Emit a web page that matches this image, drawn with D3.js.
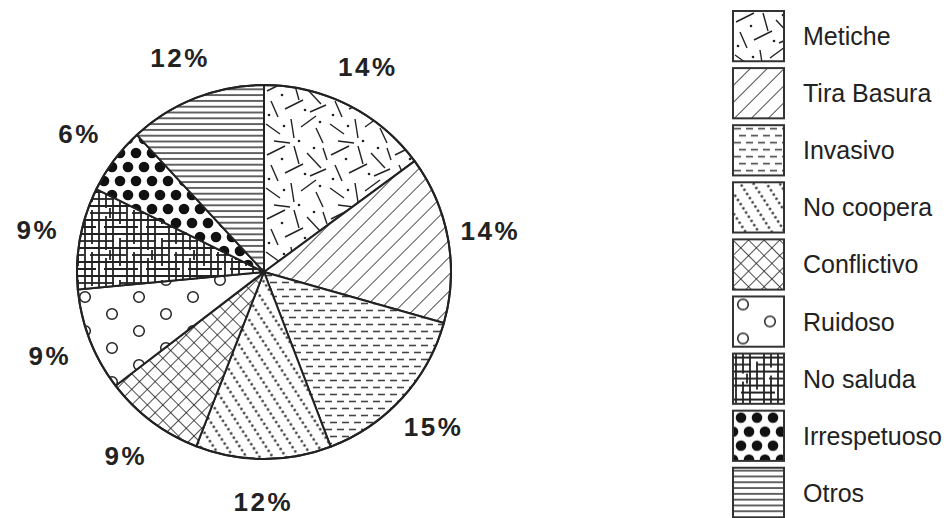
<!DOCTYPE html>
<html>
<head>
<meta charset="utf-8">
<script src="https://cdn.jsdelivr.net/npm/d3@7"></script>
<style>
  body { margin: 0; background: #fff; }
  svg { display: block; font-family: "Liberation Sans", Arial, Helvetica, sans-serif; }
</style>
</head>
<body>
<div id="grafico"></div>
<script>
// datos de la gráfica
const categorias = ["Metiche", "Tira Basura", "Invasivo", "No coopera", "Conflictivo", "Ruidoso", "No saluda", "Irrespetuoso", "Otros"];
const proporciones = [14.9, 14.5, 14.8, 11.7, 8.7, 8.9, 8.8, 5.8, 11.9];
const etiquetas = ["14%", "14%", "15%", "12%", "9%", "9%", "9%", "6%", "12%"];
const tramas = ["metiche", "tira", "invasivo", "nocoopera", "conflictivo", "ruidoso", "nosaluda", "irrespetuoso", "otros"];

const ancho = 946, alto = 518;
const centroX = 264, centroY = 272;
const radio = 187;
const radioEtiqueta = 230;
const tinta = "#222";

const $svg = d3.select("#grafico")
    .append("svg")
    .attr("width", ancho)
    .attr("height", alto);

const defs = $svg.append("defs");

const nuevaTrama = (id, w, h, transform) => {
    const p = defs.append("pattern")
        .attr("id", id)
        .attr("patternUnits", "userSpaceOnUse")
        .attr("width", w)
        .attr("height", h);
    if (transform) p.attr("patternTransform", transform);
    p.append("rect").attr("width", w).attr("height", h).attr("fill", "#fff");
    return p;
};
const linea = (p, x1, y1, x2, y2, grosor, color) => p.append("line")
    .attr("x1", x1).attr("y1", y1).attr("x2", x2).attr("y2", y2)
    .attr("stroke", color || tinta)
    .attr("stroke-width", grosor || 1.3);

// Metiche: trazos cortos y puntos
const tMetiche = nuevaTrama("metiche", 64, 64);
[[3, 11, 21, 2], [30, 2, 35, 20], [43, 9, 57, 24], [7, 21, 14, 37], [21, 29, 39, 20],
 [46, 32, 62, 25], [2, 44, 16, 54], [27, 39, 30, 58], [37, 47, 52, 36], [52, 48, 59, 63],
 [10, 61, 26, 63], [59, 4, 63, 16]].forEach(s => linea(tMetiche, s[0], s[1], s[2], s[3], 1.4));
[[18, 15], [41, 30], [5, 35], [35, 61], [56, 42], [20, 46], [50, 4]].forEach(d =>
    tMetiche.append("circle").attr("cx", d[0]).attr("cy", d[1]).attr("r", 1.3).attr("fill", tinta));

// Tira Basura: diagonales
const tTira = nuevaTrama("tira", 12, 12, "rotate(45)");
linea(tTira, 0, 0, 0, 12, 1.6);

// Invasivo: guiones horizontales
const tInv = nuevaTrama("invasivo", 12, 14);
linea(tInv, 1, 3.5, 8, 3.5, 1.6, "#444");
linea(tInv, 6, 10.5, 13, 10.5, 1.6, "#444");
linea(tInv, -6, 10.5, 1, 10.5, 1.6, "#444");

// No coopera: líneas punteadas
const tNoc = nuevaTrama("nocoopera", 11, 5, "rotate(-33)");
tNoc.append("circle").attr("cx", 5.5).attr("cy", 2.5).attr("r", 1.25).attr("fill", tinta);

// Conflictivo: cuadrícula diagonal
const tConf = nuevaTrama("conflictivo", 11, 11, "rotate(45)");
linea(tConf, 0, 0, 0, 11, 1.6);
linea(tConf, 0, 0, 11, 0, 1.6);

// Ruidoso: círculos huecos
const tRui = nuevaTrama("ruidoso", 54, 34);
[[10, 8], [37, 25]].forEach(c =>
    tRui.append("circle").attr("cx", c[0]).attr("cy", c[1]).attr("r", 5.3)
        .attr("fill", "none").attr("stroke", tinta).attr("stroke-width", 1.5));

// No saluda: laberinto de líneas
const tSal = nuevaTrama("nosaluda", 42, 42);
[[0, 4, 42, 4], [0, 11, 18, 11], [24, 11, 42, 11], [0, 18, 42, 18], [0, 25, 30, 25],
 [36, 25, 42, 25], [0, 32, 42, 32], [8, 39, 42, 39]].forEach(s => linea(tSal, s[0], s[1], s[2], s[3], 1.8));
[[3, 0, 3, 42], [10, 0, 10, 20], [10, 28, 10, 42], [17, 0, 17, 42], [24, 8, 24, 36],
 [31, 0, 31, 42], [38, 0, 38, 14], [38, 22, 38, 42], [14, 20, 14, 30]].forEach(s => linea(tSal, s[0], s[1], s[2], s[3], 1.8));

// Irrespetuoso: puntos negros
const tIrr = nuevaTrama("irrespetuoso", 32, 28);
[[8, 7], [24, 7], [0, 21], [16, 21], [32, 21], [8, 35], [24, 35], [0, -7], [16, -7], [32, -7]].forEach(c =>
    tIrr.append("circle").attr("cx", c[0]).attr("cy", c[1]).attr("r", 5.3).attr("fill", "#111"));

// Otros: horizontales
const tOtros = nuevaTrama("otros", 8, 5.8);
linea(tOtros, 0, 2.9, 8, 2.9, 1.4);

// pastel
const pie = d3.pie().sort(null).value(d => d.valor).startAngle(0).endAngle(Math.PI * 2);
const datos = categorias.map((c, i) => ({ categoria: c, valor: proporciones[i], etiqueta: etiquetas[i], trama: tramas[i] }));
const arcos = pie(datos);

const arco = d3.arc().innerRadius(0).outerRadius(radio);
const arcoEtiqueta = d3.arc().innerRadius(radioEtiqueta).outerRadius(radioEtiqueta);

const g = $svg.append("g").attr("transform", `translate(${centroX},${centroY})`);

g.selectAll("path.rebanada")
    .data(arcos)
    .join("path")
    .attr("class", "rebanada")
    .attr("d", arco)
    .attr("fill", d => `url(#${d.data.trama})`)
    .attr("stroke", tinta)
    .attr("stroke-width", 2)
    .attr("stroke-linejoin", "round");

g.append("circle")
    .attr("r", radio)
    .attr("fill", "none")
    .attr("stroke", tinta)
    .attr("stroke-width", 2);

g.selectAll("text.porcentaje")
    .data(arcos)
    .join("text")
    .attr("class", "porcentaje")
    .attr("transform", d => `translate(${arcoEtiqueta.centroid(d)})`)
    .attr("text-anchor", "middle")
    .attr("dominant-baseline", "central")
    .attr("font-size", 26)
    .attr("font-weight", "bold")
    .attr("letter-spacing", 2.5)
    .attr("fill", tinta)
    .text(d => d.data.etiqueta);

// leyenda
const y = d3.scaleBand()
    .domain(categorias)
    .range([11, 518])
    .paddingInner(0.12)
    .paddingOuter(0);

const leyenda = $svg.append("g");
const fila = leyenda.selectAll("g")
    .data(datos)
    .join("g")
    .attr("transform", d => `translate(733,${y(d.categoria)})`);

fila.append("rect")
    .attr("width", 51)
    .attr("height", y.bandwidth())
    .attr("fill", d => `url(#${d.trama})`)
    .attr("stroke", "#333")
    .attr("stroke-width", 2);

fila.append("text")
    .attr("x", 70)
    .attr("y", y.bandwidth() / 2)
    .attr("dominant-baseline", "central")
    .attr("font-size", 25)
    .attr("fill", tinta)
    .text(d => d.categoria);
</script>
</body>
</html>
